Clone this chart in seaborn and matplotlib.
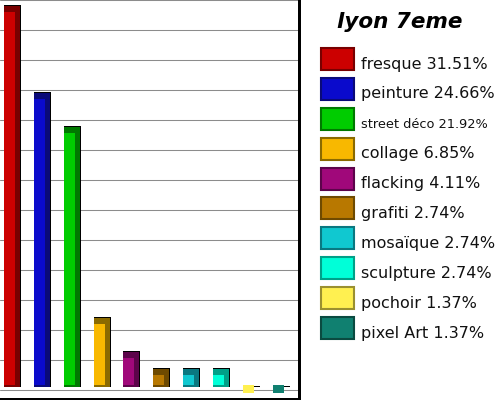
import matplotlib
matplotlib.use("Agg")
import matplotlib.pyplot as plt
from matplotlib.patches import Rectangle
import seaborn as sns
import numpy as np

# Data (counts out of 73 artworks)
categories = ["fresque", "peinture", "street déco", "collage", "flacking",
              "grafiti", "mosaïque", "sculpture", "pochoir", "pixel Art"]
counts = [23, 18, 16, 5, 3, 2, 2, 2, 1, 1]
face_colors = ["#cc0000", "#0a0acc", "#00cc00", "#f8b800", "#a0087a",
               "#b87800", "#10c8d0", "#00ffd8", "#fff050", "#108070"]
dark_colors = ["#780000", "#0a0a78", "#007800", "#8a6a00", "#5c044a",
               "#6e4a00", "#0a7880", "#00a088", "#9a9030", "#0a4a40"]

total = sum(counts)
labels = [f"{c} {n / total * 100:.2f}%" for c, n in zip(categories, counts)]

sns.set_style("white")
plt.rcParams["font.family"] = ["DejaVu Sans"]

W, H = 500, 400
fig = plt.figure(figsize=(5, 4), dpi=100)
ax = fig.add_axes([0, 1.5 / H, 298.5 / W, 398.5 / H])

# pixel scales so the fake-3D offsets can be expressed in pixels
px_x = 298.5 / 10
px_y = 17.3
y_top = 404 / px_y
y_bot = (404 - 398.5) / px_y
floor = (404 - 387) / px_y

vals = np.array(counts, dtype=float)
pos = np.arange(len(categories), dtype=float)

# black outline behind the bars
sns.barplot(x=pos + 0.5 / px_x, y=vals - floor + 1 / px_y, color="black",
            native_scale=True, width=17 / px_x, bottom=floor, saturation=1,
            linewidth=0, errorbar=None, ax=ax)
# dark back / side of the bars
sns.barplot(x=pos, y=vals - floor, hue=categories, palette=dark_colors,
            native_scale=True, width=16 / px_x, bottom=floor, saturation=1,
            linewidth=0, errorbar=None, legend=False, ax=ax)
# lighter front face
face_bottom = floor + 2 / px_y
sns.barplot(x=pos - 2.5 / px_x, y=vals - 6 / px_y - face_bottom, hue=categories,
            palette=face_colors, native_scale=True, width=11 / px_x,
            bottom=face_bottom, saturation=1, linewidth=0, errorbar=None,
            legend=False, ax=ax)

ax.set_xlim(-12 / px_x, -12 / px_x + 10)
ax.set_ylim(y_bot, y_top)
ax.set_yticks(y_top - np.arange(14) * 30 / px_y)
ax.set_xticks([])
ax.yaxis.grid(True, color="#8c8c8c", linewidth=0.75)
ax.set_axisbelow(True)
ax.tick_params(length=0, labelleft=False, labelbottom=False)
ax.set_xlabel("")
ax.set_ylabel("")
for side in ["left", "top"]:
    ax.spines[side].set_visible(False)
for side in ["right", "bottom"]:
    ax.spines[side].set_color("black")
    ax.spines[side].set_linewidth(2.16)

fig.text(400 / W, 1 - 28 / H, "lyon 7eme", ha="center", va="baseline",
         fontsize=15.5, fontweight="bold", fontstyle="italic", color="black")

# legend drawn by hand: one swatch + label per row, 30 px apart
row_top = 47
row_step = 29.9
for i, (lab, f, d) in enumerate(zip(labels, face_colors, dark_colors)):
    top = row_top + i * row_step
    fig.add_artist(Rectangle((321 / W, 1 - (top + 23) / H), 33 / W, 22 / H,
                             transform=fig.transFigure, facecolor=f,
                             edgecolor=d, linewidth=1.5))
    size = 9.3 if lab.startswith("street") else 11.5
    fig.text(361 / W, 1 - (top + 21.5) / H, lab, ha="left", va="baseline",
             fontsize=size, color="#111111")

fig.savefig("out.png", dpi=100)
plt.close(fig)
